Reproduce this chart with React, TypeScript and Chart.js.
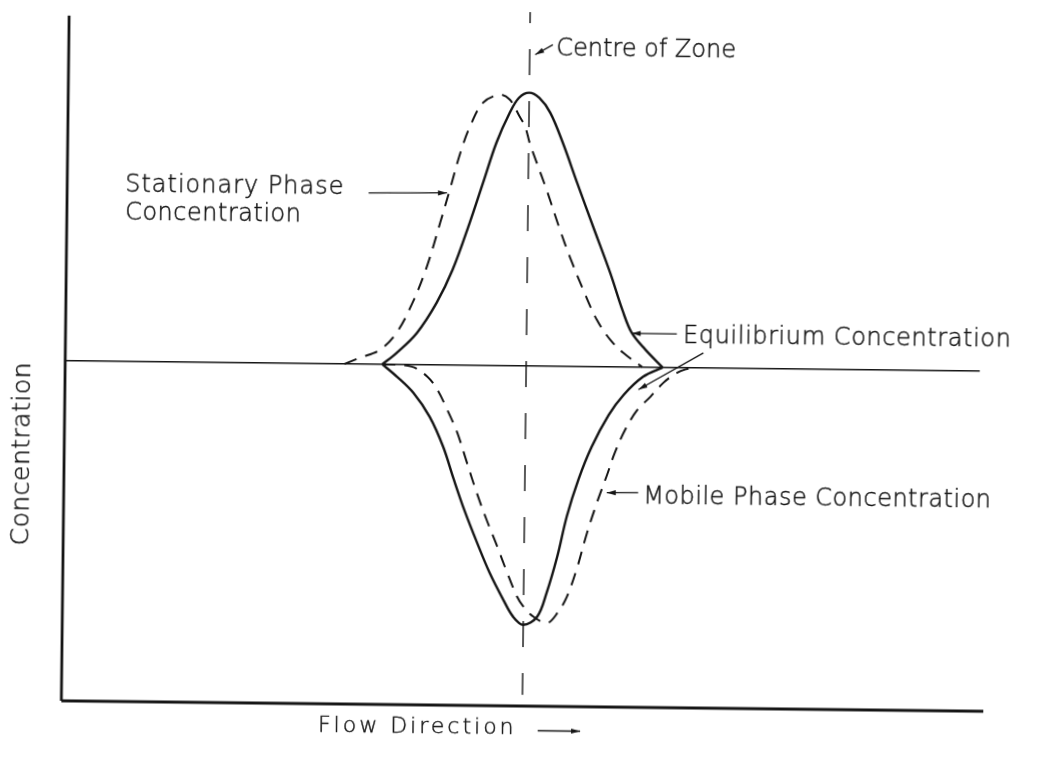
import React, { useEffect, useRef } from "react";
import { Chart, registerables } from "chart.js";

Chart.register(...registerables);

// Flow-direction position (0..100) and concentration relative to equilibrium baseline (0)
const equilibriumUpper: [number, number][] = [
  [34.4, 0], [35.9, 3.3], [38.1, 9.3], [40.2, 18.2], [41.9, 28.0], [43.7, 41.9],
  [45.1, 53.7], [46.5, 65.5], [47.9, 74.3], [48.9, 78.8], [50.0, 80.3], [51.1, 78.8],
  [52.3, 74.5], [53.7, 65.7], [55.3, 54.0], [57.1, 41.1], [59.0, 27.6], [60.4, 16.5],
  [61.4, 10.1], [62.9, 5.2], [64.8, 0],
];

const stationaryPhase: [number, number][] = [
  [30.3, 0], [32.0, 1.9], [34.1, 4.2], [35.9, 9.3], [37.6, 18.2], [39.1, 28.8],
  [40.5, 41.8], [41.5, 51.5], [42.6, 62.4], [43.6, 70.1], [45.0, 77.2], [46.8, 79.6],
  [47.9, 78.2], [49.0, 73.2], [49.6, 70.3], [50.1, 65.6], [50.9, 59.7], [52.0, 51.8],
  [53.5, 40.1], [54.6, 32.2], [56.1, 22.5], [57.6, 13.8], [59.1, 7.9], [60.5, 4.2],
  [62.6, 0],
];

const equilibriumLower: [number, number][] = [
  [34.4, 0], [36.0, -3.6], [37.8, -8.3], [39.6, -15.3], [41.1, -24.1], [42.3, -33.7],
  [43.5, -42.8], [44.9, -52.2], [46.3, -61.0], [47.8, -68.8], [48.9, -73.8], [50.0, -76.1],
  [51.5, -73.7], [52.5, -66.6], [53.6, -56.0], [54.6, -44.0], [55.8, -33.3], [57.2, -23.6],
  [59.0, -14.2], [60.6, -8.2], [62.7, -2.8], [64.8, 0],
];

const mobilePhase: [number, number][] = [
  [34.4, 0], [37.6, -0.6], [39.3, -3.5], [40.4, -7.3], [41.5, -13.2], [42.6, -19.8],
  [43.7, -28.7], [44.8, -37.5], [45.9, -45.4], [47.1, -53.3], [48.2, -60.9], [49.3, -67.9],
  [50.0, -70.8], [51.1, -73.7], [52.6, -75.5], [53.7, -72.5], [54.7, -67.7], [55.8, -58.9],
  [56.8, -48.9], [57.9, -39.5], [58.9, -31.8], [59.7, -25.4], [60.8, -18.5], [62.1, -12.6],
  [63.5, -8.7], [64.9, -4.5], [66.4, -1.5], [67.8, 0],
];

const baselineLine: [number, number][] = [[0, 0], [99.2, 0]];
const centreLine: [number, number][] = [[50, 104], [50, -96.7]];
const yAxisLine: [number, number][] = [[0, 101.4], [0, -100]];
const xAxisLine: [number, number][] = [[0, -100], [100, -100]];

const X_MIN = 0, X_MAX = 100, Y_MIN = -100, Y_MAX = 104;

type Label = { text: string; x: number; y: number; size: number; spacing: number; rotate?: boolean };
const labels: Label[] = [
  { text: "Centre of Zone", x: 52.87, y: 91.5, size: 24, spacing: 0 },
  { text: "Stationary Phase", x: 6.28, y: 49.9, size: 24, spacing: 1 },
  { text: "Concentration", x: 6.31, y: 41.6, size: 24, spacing: 0.5 },
  { text: "Equilibrium Concentration", x: 66.98, y: 7.3, size: 24, spacing: 0.6 },
  { text: "Mobile Phase Concentration", x: 62.84, y: -39.9, size: 24, spacing: 0.5 },
  { text: "Flow Direction", x: 27.87, y: -108.3, size: 22, spacing: 3 },
  { text: "Concentration", x: -4.47, y: -27.5, size: 25, spacing: 0.5, rotate: true },
];

type Arrow = { x1: number; y1: number; x2: number; y2: number };
const arrows: Arrow[] = [
  { x1: 32.7, y1: 50.3, x2: 41.2, y2: 50.6 },
  { x1: 66.3, y1: 9.9, x2: 61.4, y2: 9.9 },
  { x1: 69.2, y1: 4.4, x2: 62.2, y2: -6.6 },
  { x1: 62.3, y1: -36.9, x2: 58.9, y2: -37.0 },
  { x1: 52.5, y1: 94.5, x2: 50.6, y2: 91.5 },
  { x1: 51.7, y1: -107.2, x2: 56.3, y2: -107.2 },
];

const INK = "#151515";
const FONT = '"DejaVu Sans", "Liberation Sans", sans-serif';

const toPts = (a: [number, number][]) => a.map(([x, y]) => ({ x, y }));

const annotationPlugin = {
  id: "annotations",
  afterDatasetsDraw(chart: any) {
    const ctx: CanvasRenderingContext2D = chart.ctx;
    const xs = chart.scales.x;
    const ys = chart.scales.y;
    ctx.save();
    ctx.fillStyle = INK;
    ctx.strokeStyle = INK;
    ctx.lineWidth = 0.45;
    for (const l of labels) {
      const px = xs.getPixelForValue(l.x);
      const py = ys.getPixelForValue(l.y);
      ctx.font = `200 ${l.size}px ${FONT}`;
      (ctx as any).letterSpacing = `${l.spacing}px`;
      if (l.rotate) {
        ctx.save();
        ctx.translate(px, py);
        ctx.rotate(-Math.PI / 2);
        ctx.textAlign = "center";
        ctx.textBaseline = "middle";
        ctx.fillText(l.text, 0, 0);
        ctx.strokeText(l.text, 0, 0);
        ctx.restore();
      } else {
        ctx.textAlign = "left";
        ctx.textBaseline = "alphabetic";
        ctx.fillText(l.text, px, py);
        ctx.strokeText(l.text, px, py);
      }
    }
    (ctx as any).letterSpacing = "0px";
    ctx.lineWidth = 1.3;
    for (const a of arrows) {
      const x1 = xs.getPixelForValue(a.x1), y1 = ys.getPixelForValue(a.y1);
      const x2 = xs.getPixelForValue(a.x2), y2 = ys.getPixelForValue(a.y2);
      ctx.beginPath();
      ctx.moveTo(x1, y1);
      ctx.lineTo(x2, y2);
      ctx.stroke();
      const ang = Math.atan2(y2 - y1, x2 - x1);
      const L = 9, W = 2.6;
      ctx.beginPath();
      ctx.moveTo(x2, y2);
      ctx.lineTo(x2 - L * Math.cos(ang) + W * Math.sin(ang), y2 - L * Math.sin(ang) - W * Math.cos(ang));
      ctx.lineTo(x2 - L * Math.cos(ang) - W * Math.sin(ang), y2 - L * Math.sin(ang) + W * Math.cos(ang));
      ctx.closePath();
      ctx.fill();
    }
    ctx.restore();
  },
};

export default function App() {
  const ref = useRef<HTMLCanvasElement>(null);
  useEffect(() => {
    const common = { pointRadius: 0, fill: false, clip: false as any, borderColor: INK };
    const chart = new Chart(ref.current!, {
      type: "line",
      data: {
        datasets: [
          { ...common, label: "y axis", data: toPts(yAxisLine), borderWidth: 2.8, tension: 0 },
          { ...common, label: "x axis", data: toPts(xAxisLine), borderWidth: 2.8, tension: 0 },
          { ...common, label: "Equilibrium", data: toPts(baselineLine), borderWidth: 1.4, tension: 0 },
          { ...common, label: "Centre of Zone", data: toPts(centreLine), borderWidth: 1.4, tension: 0, borderDash: [26, 26], borderDashOffset: 15 },
          { ...common, label: "Equilibrium upper", data: toPts(equilibriumUpper), borderWidth: 2.4, tension: 0.35 },
          { ...common, label: "Equilibrium lower", data: toPts(equilibriumLower), borderWidth: 2.4, tension: 0.35 },
          { ...common, label: "Stationary Phase", data: toPts(stationaryPhase), borderWidth: 2.0, borderDash: [13, 9], tension: 0.35 },
          { ...common, label: "Mobile Phase", data: toPts(mobilePhase), borderWidth: 2.0, borderDash: [13, 9], tension: 0.35 },
        ] as any,
      },
      options: {
        responsive: false,
        animation: false,
        devicePixelRatio: 1,
        events: [],
        layout: { padding: { left: 65, right: 50, top: 12, bottom: 57 } },
        scales: {
          x: { type: "linear", min: X_MIN, max: X_MAX, display: false },
          y: { type: "linear", min: Y_MIN, max: Y_MAX, display: false },
        },
        plugins: { legend: { display: false }, tooltip: { enabled: false } },
      },
      plugins: [annotationPlugin],
    });
    return () => chart.destroy();
  }, []);
  return (
    <div style={{ position: "fixed", left: 0, top: 0, width: 1037, height: 763, background: "#fff", overflow: "hidden" }}>
      <canvas
        ref={ref}
        width={1037}
        height={763}
        style={{ display: "block", width: 1037, height: 763, transform: "rotate(0.65deg)", transformOrigin: "50% 50%" }}
      />
    </div>
  );
}
